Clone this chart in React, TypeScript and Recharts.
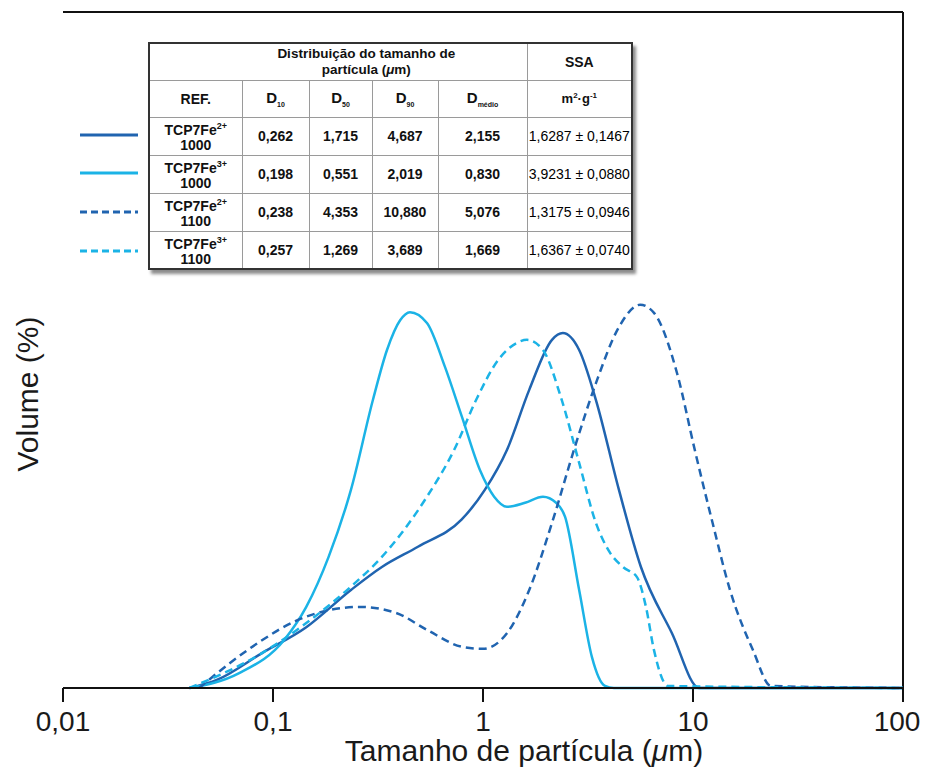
import { LineChart, Line, XAxis, YAxis, ReferenceLine } from 'recharts';

// particle size (µm) and volume readings, one pair of arrays per sample
const fe2_1000_x = [0.04, 0.054, 0.089, 0.144, 0.235, 0.33, 0.49, 0.79, 1.02, 1.3, 1.66, 2.13, 2.4, 2.87, 3.45, 4.44, 5.65, 7.94, 10.7, 100];
const fe2_1000_y = [0, 1.2, 5.2, 9.0, 14.5, 17.9, 20.9, 24.9, 29.3, 35.2, 44.1, 51.5, 52.5, 50.0, 42.6, 29.3, 17.9, 8.1, 0, 0];

const fe3_1000_x = [0.04, 0.069, 0.113, 0.144, 0.184, 0.235, 0.299, 0.349, 0.403, 0.449, 0.541, 0.659, 0.794, 0.968, 1.13, 1.3, 1.585, 1.93, 2.23, 2.46, 2.87, 3.3, 3.81, 4.2, 100];
const fe3_1000_y = [0, 2.2, 7.1, 12, 19.4, 29.3, 42.6, 50, 54.4, 55.6, 54, 47.5, 40.1, 32.2, 28.3, 26.8, 27.4, 28.3, 27.4, 25.3, 14.5, 4.6, 0.3, 0, 0];

const fe2_1100_x = [0.0445, 0.0624, 0.089, 0.13, 0.184, 0.259, 0.386, 0.541, 0.794, 1.0, 1.3, 1.66, 2.13, 2.71, 3.45, 4.44, 5.6, 6.52, 8.39, 10.2, 12.4, 15.0, 19.3, 23.5, 100];
const fe2_1100_y = [0, 3.7, 7.1, 10, 11.5, 12, 11.1, 8.6, 6.1, 5.8, 8.1, 14.5, 24.4, 35.2, 45.1, 53.4, 56.7, 55.5, 46.6, 35.2, 24.4, 14.5, 5.6, 0.3, 0];

const fe3_1100_x = [0.04, 0.089, 0.144, 0.235, 0.33, 0.421, 0.541, 0.728, 0.927, 1.18, 1.44, 1.62, 1.93, 2.35, 2.87, 3.45, 4.03, 4.64, 5.41, 5.97, 6.52, 7.6, 100];
const fe3_1100_y = [0, 5.2, 9.6, 15, 19.4, 23.4, 28.3, 35.2, 42.6, 48.5, 51, 51.5, 50, 43, 33.3, 24.4, 20, 17.9, 16.4, 12, 5.6, 0.3, 0];

const xTicks = [0.01, 0.1, 1, 10, 100];

// table contents
const refCharges = ['2+', '3+', '2+', '3+'];
const refTemps = ['1000', '1000', '1100', '1100'];
const d10 = ['0,262', '0,198', '0,238', '0,257'];
const d50 = ['1,715', '0,551', '4,353', '1,269'];
const d90 = ['4,687', '2,019', '10,880', '3,689'];
const dMedio = ['2,155', '0,830', '5,076', '1,669'];
const ssa = ['1,6287 ± 0,1467', '3,9231 ± 0,0880', '1,3175 ± 0,0946', '1,6367 ± 0,0740'];

const DARK = '#2064b0';
const LIGHT = '#1bb3e6';

const toPoints = (xs: number[], ys: number[]) => xs.map((x, i) => ({ x, y: ys[i] }));

const series = [
    { name: 'TCP7Fe2+ 1000', data: toPoints(fe2_1000_x, fe2_1000_y), color: DARK, dash: undefined },
    { name: 'TCP7Fe3+ 1000', data: toPoints(fe3_1000_x, fe3_1000_y), color: LIGHT, dash: undefined },
    { name: 'TCP7Fe2+ 1100', data: toPoints(fe2_1100_x, fe2_1100_y), color: DARK, dash: '8 5' },
    { name: 'TCP7Fe3+ 1100', data: toPoints(fe3_1100_x, fe3_1100_y), color: LIGHT, dash: '8 5' },
];

const font = '"Liberation Sans", Arial, Helvetica, sans-serif';

const cell: React.CSSProperties = {
    border: '1px solid #9a9a9a',
    textAlign: 'center',
    verticalAlign: 'middle',
    padding: 0,
    fontWeight: 'bold',
    fontSize: 14,
    color: '#111',
};

// tick label; the last one is nudged left so it stays inside the page
function XTick(props: any) {
    const { x, y, payload } = props;
    const last = payload.value === xTicks[xTicks.length - 1];
    return (
        <text
            x={x}
            y={y}
            dx={last ? -6 : 0}
            dy="0.71em"
            textAnchor="middle"
            fontSize={28}
            fontFamily={font}
            fill="#1a1a1a"
        >
            {String(payload.value).replace('.', ',')}
        </text>
    );
}

export default function App() {
    return (
        <div style={{ position: 'relative', width: 920, height: 760, fontFamily: font }}>
            {/* no scrollbars, they would eat into the right edge */}
            <style>{'html, body { overflow: hidden; }'}</style>
            <LineChart width={920} height={760} margin={{ top: 4, right: 25, left: 55, bottom: 0 }}>
                <XAxis
                    dataKey="x"
                    type="number"
                    scale="log"
                    domain={[0.01, 100]}
                    ticks={xTicks}
                    interval={0}
                    allowDataOverflow
                    tick={<XTick />}
                    tickSize={14}
                    tickMargin={9}
                    axisLine={{ stroke: '#111', strokeWidth: 2 }}
                    tickLine={{ stroke: '#111', strokeWidth: 2 }}
                    height={80}
                />
                <YAxis
                    type="number"
                    domain={[0, 100]}
                    tick={false}
                    tickLine={false}
                    width={0}
                    axisLine={{ stroke: '#111', strokeWidth: 2 }}
                />
                <ReferenceLine y={100} stroke="#111" strokeWidth={2} />
                <ReferenceLine x={100} stroke="#111" strokeWidth={2} />
                {series.map((s) => (
                    <Line
                        key={s.name}
                        data={s.data}
                        dataKey="y"
                        name={s.name}
                        type="monotone"
                        stroke={s.color}
                        strokeWidth={2.5}
                        strokeDasharray={s.dash}
                        dot={false}
                        activeDot={false}
                        isAnimationActive={false}
                    />
                ))}
            </LineChart>

            {/* axis titles */}
            <div
                style={{
                    position: 'absolute',
                    left: 20,
                    top: 386,
                    transform: 'translate(-50%, -50%) rotate(-90deg)',
                    fontSize: 30,
                    whiteSpace: 'nowrap',
                    color: '#1a1a1a',
                }}
            >
                Volume (%)
            </div>
            <div
                style={{
                    position: 'absolute',
                    left: 216,
                    top: 726,
                    width: 600,
                    textAlign: 'center',
                    fontSize: 30,
                    lineHeight: '34px',
                    color: '#1a1a1a',
                }}
            >
                Tamanho de partícula (<i>μ</i>m)
            </div>

            {/* legend swatches next to the table rows */}
            <svg style={{ position: 'absolute', left: 72, top: 110 }} width={62} height={150}>
                {series.map((s, i) => (
                    <line
                        key={s.name}
                        x1={0}
                        x2={58}
                        y1={[17, 55, 94, 133][i]}
                        y2={[17, 55, 94, 133][i]}
                        stroke={s.color}
                        strokeWidth={3}
                        strokeDasharray={s.dash ? '7 4' : undefined}
                    />
                ))}
            </svg>

            <table
                style={{
                    position: 'absolute',
                    left: 140,
                    top: 34,
                    width: 483,
                    height: 228,
                    borderCollapse: 'collapse',
                    border: '2px solid #333',
                    background: '#fff',
                    boxShadow: '3px 4px 3px rgba(0,0,0,0.45)',
                    fontFamily: font,
                    tableLayout: 'fixed',
                }}
            >
                <colgroup>
                    <col style={{ width: 93 }} />
                    <col style={{ width: 67 }} />
                    <col style={{ width: 63 }} />
                    <col style={{ width: 66 }} />
                    <col style={{ width: 89 }} />
                    <col style={{ width: 105 }} />
                </colgroup>
                <tbody>
                    <tr style={{ height: 37 }}>
                        <td colSpan={5} style={{ ...cell, fontSize: 13.5, lineHeight: '16px', paddingLeft: 56 }}>
                            Distribuição do tamanho de
                            <br />
                            partícula (<i>μ</i>m)
                        </td>
                        <td style={{ ...cell, fontSize: 14 }}>SSA</td>
                    </tr>
                    <tr style={{ height: 37 }}>
                        <td style={{ ...cell, fontSize: 14 }}>REF.</td>
                        <td style={{ ...cell, fontSize: 15 }}>
                            D<sub style={{ fontSize: 7 }}>10</sub>
                        </td>
                        <td style={{ ...cell, fontSize: 15 }}>
                            D<sub style={{ fontSize: 7 }}>50</sub>
                        </td>
                        <td style={{ ...cell, fontSize: 15 }}>
                            D<sub style={{ fontSize: 7 }}>90</sub>
                        </td>
                        <td style={{ ...cell, fontSize: 15 }}>
                            D<sub style={{ fontSize: 7 }}>médio</sub>
                        </td>
                        <td style={{ ...cell, fontSize: 13 }}>
                            m<sup style={{ fontSize: 8 }}>2</sup>·g<sup style={{ fontSize: 8 }}>-1</sup>
                        </td>
                    </tr>
                    {refTemps.map((t, i) => (
                        <tr key={i} style={{ height: 38 }}>
                            <td style={{ ...cell, lineHeight: '15px' }}>
                                TCP7Fe<sup style={{ fontSize: 9 }}>{refCharges[i]}</sup>
                                <br />
                                {t}
                            </td>
                            <td style={cell}>{d10[i]}</td>
                            <td style={cell}>{d50[i]}</td>
                            <td style={cell}>{d90[i]}</td>
                            <td style={cell}>{dMedio[i]}</td>
                            <td style={{ ...cell, fontWeight: 'normal', fontSize: 14, color: '#000', whiteSpace: 'nowrap' }}>
                                {ssa[i]}
                            </td>
                        </tr>
                    ))}
                </tbody>
            </table>
        </div>
    );
}
